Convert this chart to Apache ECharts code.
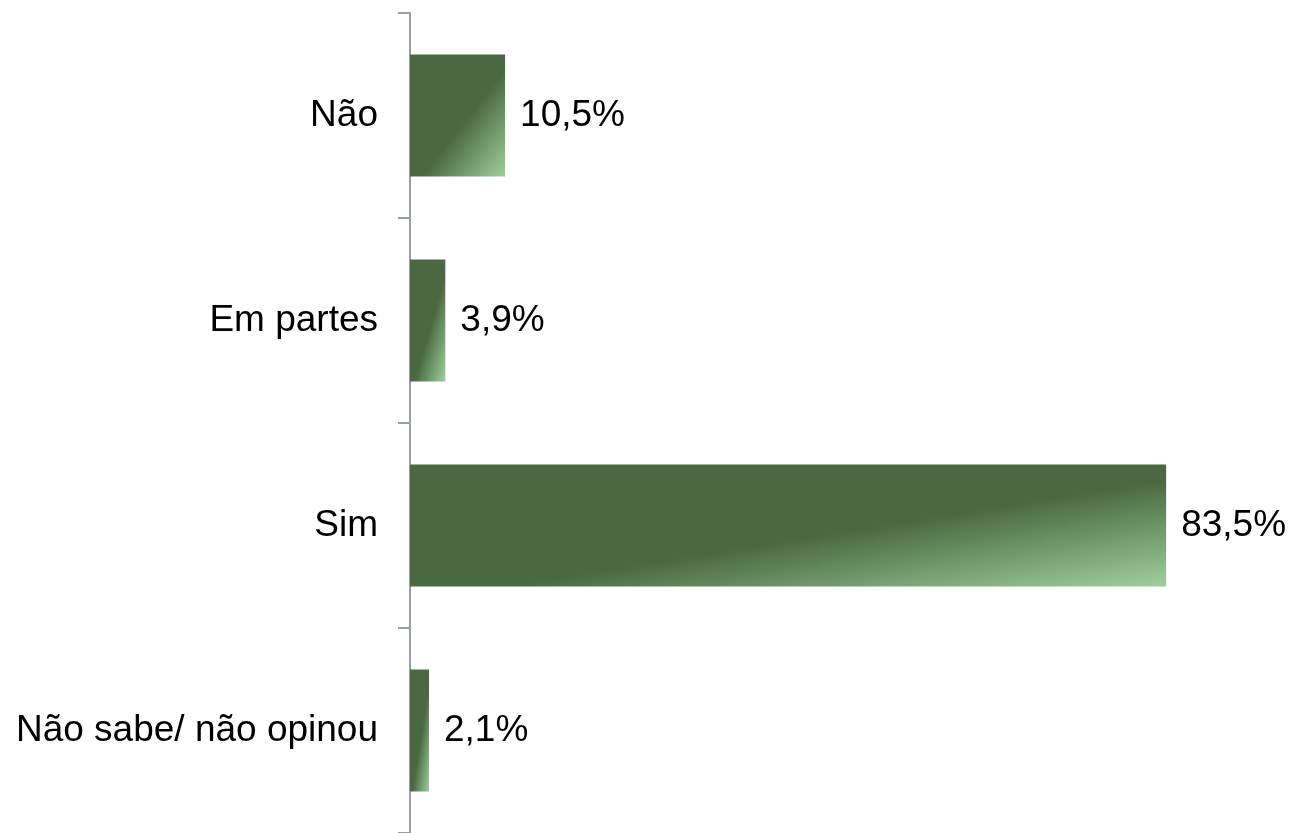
<!DOCTYPE html>
<html>
<head>
<meta charset="utf-8">
<script src="https://cdn.jsdelivr.net/npm/echarts@6/dist/echarts.min.js"></script>
<style>
  html, body { margin: 0; padding: 0; background: #fff; }
  #chart { width: 1290px; height: 833px; }
</style>
</head>
<body>
<div id="chart"></div>
<script>
// Survey answers, top to bottom
const categories = ["Não", "Em partes", "Sim", "Não sabe/ não opinou"];
const values = [10.5, 3.9, 83.5, 2.1];

const DARK = "#4a6842";
const LIGHT = "#9fcf9d";
const BAR_WIDTH = 122;

// Diagonal sheen: isolines run corner to corner, light at bottom-right
function sheen(w, h) {
  const d = w * w + h * h;
  return new echarts.graphic.LinearGradient(0, 0, 2 * h * h / d, 2 * w * w / d, [
    { offset: 0, color: DARK },
    { offset: 0.56, color: DARK },
    { offset: 1, color: LIGHT }
  ]);
}

const chart = echarts.init(document.getElementById("chart"), null, { renderer: "canvas" });
chart.setOption({
  animation: false,
  grid: { left: 410, right: 65, top: 13, bottom: -4, containLabel: false },
  xAxis: { type: "value", min: 0, max: 90, show: false },
  yAxis: {
    type: "category",
    data: categories,
    inverse: true,
    axisLine: { show: true, lineStyle: { color: "#989ea8", width: 2 } },
    axisTick: { show: true, length: 12, lineStyle: { color: "#989ea8", width: 2 } },
    axisLabel: {
      color: "#000",
      fontFamily: "Liberation Sans, Arial, sans-serif",
      fontSize: 37,
      margin: 32
    }
  },
  series: [{
    type: "bar",
    data: values,
    barWidth: BAR_WIDTH,
    itemStyle: { color: DARK },
    label: {
      show: true,
      position: "right",
      distance: 15,
      color: "#000",
      fontFamily: "Liberation Sans, Arial, sans-serif",
      fontSize: 37,
      formatter: p => p.value.toFixed(1).replace(".", ",") + "%"
    }
  }]
});

// Give each bar its own gradient sized to its pixel extent
const x0 = chart.convertToPixel({ xAxisIndex: 0 }, 0);
const styled = values.map(v => {
  const w = Math.max(1, chart.convertToPixel({ xAxisIndex: 0 }, v) - x0);
  return { value: v, itemStyle: { color: sheen(w, BAR_WIDTH) } };
});
chart.setOption({ series: [{ data: styled }] });
</script>
</body>
</html>
